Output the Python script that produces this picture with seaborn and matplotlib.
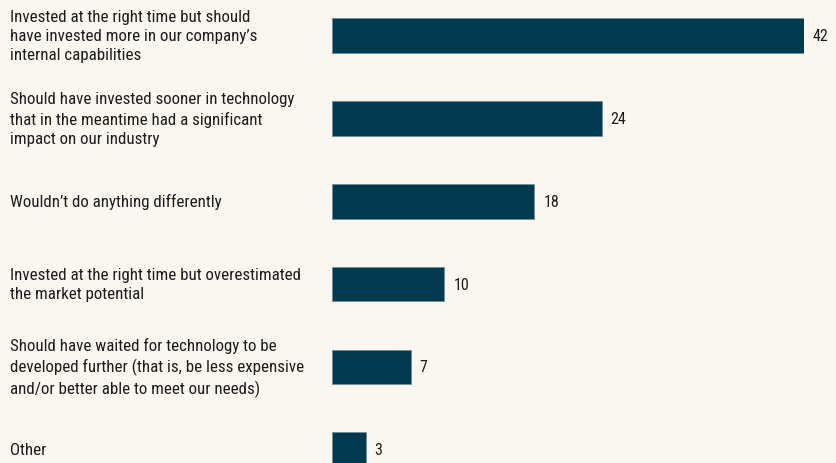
import matplotlib
matplotlib.use("Agg")
import matplotlib.pyplot as plt
import seaborn as sns
import pandas as pd

categories = [
    "Invested at the right time but should\nhave invested more in our company’s\ninternal capabilities",
    "Should have invested sooner in technology\nthat in the meantime had a significant\nimpact on our industry",
    "Wouldn’t do anything differently",
    "Invested at the right time but overestimated\nthe market potential",
    "Should have waited for technology to be\ndeveloped further (that is, be less expensive\nand/or better able to meet our needs)",
    "Other",
]
values = [42, 24, 18, 10, 7, 3]

df = pd.DataFrame({"answer": categories, "share": values})

sns.set_theme(style="white")
plt.rcParams["font.family"] = ["Roboto Condensed", "DejaVu Sans"]

bg = "#faf6f0"
bar_color = "#023a50"
text_color = "#1c1c1c"

W, H = 837, 464
fig = plt.figure(figsize=(W / 100, H / 100), dpi=100, facecolor=bg)
ax = fig.add_axes([332 / W, 0, 472 / W, 1])
ax.set_facecolor(bg)

sns.barplot(data=df, x="share", y="answer", order=categories, color=bar_color,
            width=0.42, edgecolor="#6f8c99", linewidth=0.6, saturation=1, ax=ax)

step = 82.8
top = 36.7
ax.set_xlim(0, 42)
ax.set_ylim((H - top) / step, -top / step)
ax.axis("off")

for i, (lab, v) in enumerate(zip(categories, values)):
    ax.annotate(str(v), (v, i), xytext=(9, 0), textcoords="offset pixels",
                ha="left", va="center", fontsize=11.5, color=text_color,
                annotation_clip=False)
    # category labels sit at a fixed pixel offset from the left of the figure
    y_fig = 1 - (top + step * i) / H
    fig.text(10 / W, y_fig, lab, ha="left", va="center", fontsize=12.2,
             color=text_color, linespacing=1.33, multialignment="left")

fig.savefig("out.png", dpi=100, facecolor=bg)
